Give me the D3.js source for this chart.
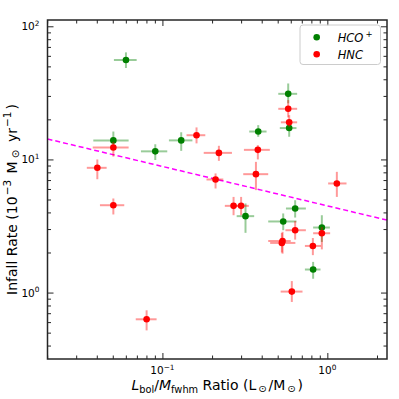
<!DOCTYPE html>
<html>
<head>
<meta charset="utf-8">
<script src="https://cdn.jsdelivr.net/npm/d3@7"></script>
<style>
  body { margin: 0; background: #fff; }
  text { font-family: "DejaVu Sans", sans-serif; }
</style>
</head>
<body>
<div id="chart"></div>
<script>
// HCO+ points and their error bar ends
var hcoX   = [0.0601, 0.0504, 0.0905, 0.130, 0.381, 0.579, 0.587, 0.319, 0.540, 0.638, 0.926, 0.820];
var hcoY   = [55.8, 13.9, 11.5, 13.9, 16.2, 31.1, 17.2, 3.75, 3.42, 4.28, 3.08, 1.49];
var hcoXlo = [0.0508, 0.0381, 0.0741, 0.1095, 0.336, 0.504, 0.515, 0.282, 0.438, 0.561, 0.820, 0.731];
var hcoXhi = [0.0698, 0.0624, 0.107, 0.152, 0.428, 0.656, 0.650, 0.360, 0.650, 0.741, 1.036, 0.909];
var hcoYlo = [48.6, 11.9, 9.9, 11.6, 14.8, 26.4, 14.8, 2.81, 2.94, 3.66, 2.40, 1.27];
var hcoYhi = [63.7, 16.2, 13.0, 16.0, 18.1, 37.2, 18.6, 4.67, 3.93, 4.94, 3.81, 1.70];

// HNC points
var hncX   = [0.0504, 0.0403, 0.0504, 0.0802, 0.161, 0.220, 0.210, 0.270, 0.300, 0.369, 0.379, 0.579, 0.587, 0.638, 0.535, 0.530, 0.926, 0.817, 0.609, 1.142];
var hncY   = [12.3, 8.65, 4.53, 0.630, 15.2, 11.2, 7.07, 4.48, 4.48, 7.75, 11.8, 24.0, 19.0, 2.94, 2.44, 2.36, 2.79, 2.24, 1.017, 6.60];
var hncXlo = [0.0378, 0.0348, 0.0418, 0.0689, 0.140, 0.178, 0.185, 0.239, 0.269, 0.309, 0.312, 0.504, 0.5225, 0.557, 0.438, 0.450, 0.820, 0.731, 0.521, 1.011];
var hncXhi = [0.0624, 0.0459, 0.0587, 0.0922, 0.182, 0.264, 0.234, 0.302, 0.334, 0.438, 0.448, 0.656, 0.656, 0.741, 0.600, 0.640, 1.04, 0.915, 0.707, 1.307];
var hncYlo = [10.5, 7.1, 3.86, 0.520, 13.2, 9.76, 6.05, 3.81, 3.81, 5.88, 10.0, 20.7, 17.6, 2.50, 1.96, 2.0, 2.11, 1.91, 0.85, 5.23];
var hncYhi = [13.55, 10.0, 5.09, 0.736, 17.4, 12.66, 7.85, 5.23, 5.23, 9.59, 12.8, 27.9, 21.5, 3.45, 2.86, 2.8, 3.10, 2.57, 1.22, 8.07];

// power-law fit  y = fitA * x^fitB
var fitA = 4.48, fitB = -0.296;

// tick values
var xMajor = [0.1, 1];
var xMajorExp = ["\u22121", "0"];
var xMinor = [0.02,0.03,0.04,0.05,0.06,0.07,0.08,0.09,0.2,0.3,0.4,0.5,0.6,0.7,0.8,0.9,2];
var yMajor = [1, 10, 100];
var yMajorExp = ["0", "1", "2"];
var yMinor = [0.4,0.5,0.6,0.7,0.8,0.9,2,3,4,5,6,7,8,9,20,30,40,50,60,70,80,90];

var W = 399, H = 399;
var margin = {top: 20, right: 12, bottom: 40, left: 47.5};
var w = W - margin.left - margin.right;
var h = H - margin.top - margin.bottom;

var svg = d3.select("#chart").append("svg")
    .attr("width", W)
    .attr("height", H);
var g = svg.append("g")
    .attr("transform", "translate(" + margin.left + "," + margin.top + ")");

var x = d3.scaleLog().domain([0.0201, 2.30]).range([0, w]);
var y = d3.scaleLog().domain([0.317, 111.5]).range([h, 0]);

// fit line
var xs = x.domain();
g.append("path")
    .datum(xs.map(function(v) { return [v, fitA * Math.pow(v, fitB)]; }))
    .attr("d", d3.line().x(function(d) { return x(d[0]); }).y(function(d) { return y(d[1]); }))
    .attr("fill", "none")
    .attr("stroke", "#ff00ff")
    .attr("stroke-width", 1.5)
    .attr("stroke-dasharray", "5,3");

function drawSeries(X, Y, Xlo, Xhi, Ylo, Yhi, color) {
  var grp = g.append("g");
  var idx = d3.range(X.length);
  grp.selectAll(".xe").data(idx).enter().append("line")
    .attr("x1", function(i) { return x(Xlo[i]); })
    .attr("x2", function(i) { return x(Xhi[i]); })
    .attr("y1", function(i) { return y(Y[i]); })
    .attr("y2", function(i) { return y(Y[i]); })
    .attr("stroke", color).attr("stroke-opacity", 0.4).attr("stroke-width", 2);
  grp.selectAll(".ye").data(idx).enter().append("line")
    .attr("x1", function(i) { return x(X[i]); })
    .attr("x2", function(i) { return x(X[i]); })
    .attr("y1", function(i) { return y(Ylo[i]); })
    .attr("y2", function(i) { return y(Yhi[i]); })
    .attr("stroke", color).attr("stroke-opacity", 0.4).attr("stroke-width", 2);
  grp.selectAll("circle").data(idx).enter().append("circle")
    .attr("cx", function(i) { return x(X[i]); })
    .attr("cy", function(i) { return y(Y[i]); })
    .attr("r", 3.3)
    .attr("fill", color);
}
drawSeries(hcoX, hcoY, hcoXlo, hcoXhi, hcoYlo, hcoYhi, "#008000");
drawSeries(hncX, hncY, hncXlo, hncXhi, hncYlo, hncYhi, "#ff0000");

// frame
g.append("rect")
    .attr("width", w).attr("height", h)
    .attr("fill", "none").attr("stroke", "#262626").attr("stroke-width", 1.5);

// inward ticks on all four sides
function ticks(axisFn, scale, vals, len, tr) {
  var a = g.append("g").attr("transform", tr)
    .call(axisFn(scale).tickValues(vals).tickSize(len).tickFormat(""));
  a.select(".domain").remove();
  a.selectAll("line").attr("stroke", "#262626").attr("stroke-width", 1);
  return a;
}
ticks(d3.axisBottom, x, xMajor, -6, "translate(0," + h + ")");
ticks(d3.axisBottom, x, xMinor, -3.5, "translate(0," + h + ")");
ticks(d3.axisTop, x, xMajor, -6, "translate(0,0)");
ticks(d3.axisTop, x, xMinor, -3.5, "translate(0,0)");
ticks(d3.axisLeft, y, yMajor, -6, "translate(0,0)");
ticks(d3.axisLeft, y, yMinor, -3.5, "translate(0,0)");
ticks(d3.axisRight, y, yMajor, -6, "translate(" + w + ",0)");
ticks(d3.axisRight, y, yMinor, -3.5, "translate(" + w + ",0)");

// tick labels 10^n
function powLabel(sel, exp, fs) {
  sel.append("tspan").text("10");
  sel.append("tspan").text(exp).attr("font-size", fs * 0.7).attr("dy", -fs * 0.42);
}
var tf = 10.5;
xMajor.forEach(function(v, i) {
  var t = g.append("text")
    .attr("x", x(v)).attr("y", h + 15)
    .attr("text-anchor", "middle").attr("font-size", tf).attr("fill", "#000");
  powLabel(t, xMajorExp[i], tf);
});
yMajor.forEach(function(v, i) {
  var t = g.append("text")
    .attr("x", -8).attr("y", y(v) + 4)
    .attr("text-anchor", "end").attr("font-size", tf).attr("fill", "#000");
  powLabel(t, yMajorExp[i], tf);
});

// axis labels
var lf = 14;
var xl = g.append("text")
    .attr("x", w / 2).attr("y", h + 31)
    .attr("text-anchor", "middle").attr("font-size", lf).attr("fill", "#000");
xl.append("tspan").text("L").attr("font-style", "italic");
xl.append("tspan").text("bol").attr("font-size", lf * 0.7).attr("dy", 3);
xl.append("tspan").text("/").attr("dy", -3);
xl.append("tspan").text("M").attr("font-style", "italic");
xl.append("tspan").text("fwhm").attr("font-size", lf * 0.7).attr("dy", 3);
xl.append("tspan").text(" Ratio (L").attr("dy", -3);
xl.append("tspan").text("\u2299").attr("font-size", lf * 0.7).attr("dy", 2).attr("dx", 2);
xl.append("tspan").text("/M").attr("dy", -2).attr("dx", 2);
xl.append("tspan").text("\u2299").attr("font-size", lf * 0.7).attr("dy", 2).attr("dx", 2);
xl.append("tspan").text(")").attr("dy", -2).attr("dx", 2);

var yl = g.append("text")
    .attr("transform", "translate(" + (17 - margin.left) + "," + (h / 2 + 10) + ") rotate(-90)")
    .attr("text-anchor", "middle").attr("font-size", lf).attr("fill", "#000");
yl.append("tspan").text("Infall Rate (10");
yl.append("tspan").text("\u22123").attr("font-size", lf * 0.75).attr("dy", -6).attr("dx", 1);
yl.append("tspan").text(" M").attr("dy", 6).attr("dx", 2);
yl.append("tspan").text("\u2299").attr("font-size", lf * 0.75).attr("dy", 2).attr("dx", 3);
yl.append("tspan").text(" yr").attr("dy", -2).attr("dx", 3);
yl.append("tspan").text("\u22121").attr("font-size", lf * 0.75).attr("dy", -6).attr("dx", 1);
yl.append("tspan").text(")").attr("dy", 6).attr("dx", 2);

// legend
var lg = svg.append("g").attr("transform", "translate(300,25)");
lg.append("rect")
    .attr("width", 80.5).attr("height", 39.5).attr("rx", 3)
    .attr("fill", "#fff").attr("fill-opacity", 0.8)
    .attr("stroke", "#cccccc").attr("stroke-width", 1);
var legItems = [["HCO", "+", "#008000"], ["HNC", "", "#ff0000"]];
legItems.forEach(function(d, i) {
  var cy = 12.3 + i * 17;
  lg.append("circle").attr("cx", 16.7).attr("cy", cy).attr("r", 3.3).attr("fill", d[2]);
  var t = lg.append("text").attr("x", 37.7).attr("y", cy + 4.2)
    .attr("font-size", 11.5).attr("font-style", "italic").attr("fill", "#000");
  t.append("tspan").text(d[0]);
  if (d[1]) t.append("tspan").text(d[1]).attr("font-size", 8.5).attr("dy", -5).attr("dx", 2);
});
</script>
</body>
</html>
